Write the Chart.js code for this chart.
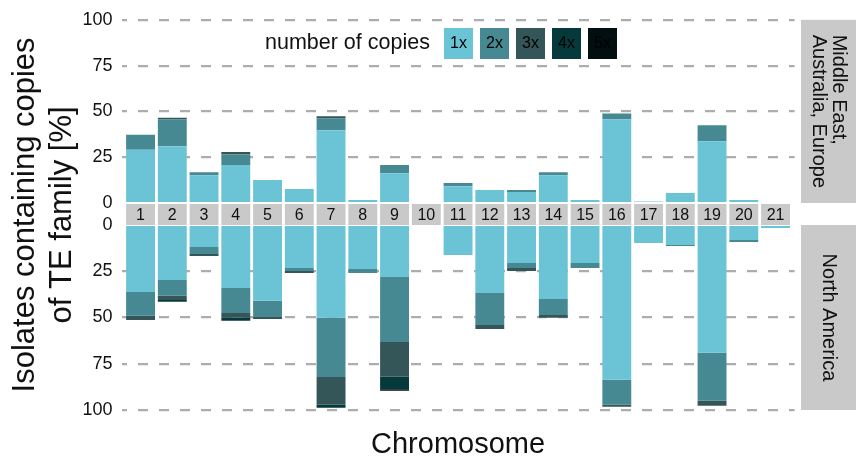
<!DOCTYPE html>
<html>
<head>
<meta charset="utf-8">
<script src="https://cdn.jsdelivr.net/npm/chart.js@4.4.0/dist/chart.umd.min.js"></script>
<style>
  html, body { margin: 0; padding: 0; background: #fff; }
  #wrap { position: relative; width: 856px; height: 463px; }
  #wrap canvas { position: absolute; left: 0; top: 0; }
</style>
</head>
<body>
<div id="wrap">
  <canvas id="topChart" width="856" height="463"></canvas>
  <canvas id="bottomChart" width="856" height="463"></canvas>
</div>
<script>
var chromosomes = [1, 2, 3, 4, 5, 6, 7, 8, 9, 10, 11, 12, 13, 14, 15, 16, 17, 18, 19, 20, 21];
var copyLabels = ['1x', '2x', '3x', '4x', '5x'];
var copyColors = ['#6bc3d6', '#468993', '#355659', '#06393c', '#020e10'];
var yTickValues = [0, 25, 50, 75, 100];
var topRegion = ['Middle East,', 'Australia, Europe'];
var bottomRegion = ['North America'];
var yTitle = ['Isolates containing copies', 'of TE family [%]'];
var xTitle = 'Chromosome';
var legendTitle = 'number of copies';

// Middle East, Australia, Europe
var top1x = [29.0, 31.0, 15.2, 20.7, 12.5, 7.6, 39.7, 1.6, 16.3, 0, 9.2, 7.1, 6.0, 15.2, 1.6, 45.7, 0.8, 5.4, 33.7, 1.6, 0];
var top2x = [8.2, 14.7, 1.6, 5.8, 0, 0, 6.5, 0, 4.4, 0, 1.7, 0, 1.1, 1.6, 0, 3.2, 0, 0, 8.7, 0, 0];
var top3x = [0, 0.9, 0, 1.4, 0, 0, 1.1, 0, 0, 0, 0, 0, 0, 0, 0, 0, 0, 0, 0, 0, 0];
var top4x = [0, 0, 0, 0, 0, 0, 0, 0, 0, 0, 0, 0, 0, 0, 0, 0, 0, 0, 0, 0, 0];
var top5x = [0, 0, 0, 0, 0, 0, 0, 0, 0, 0, 0, 0, 0, 0, 0, 0, 0, 0, 0, 0, 0];

// North America
var bottom1x = [36.2, 29.7, 11.9, 34.0, 41.0, 23.2, 50.2, 23.8, 28.1, 0, 16.2, 36.7, 20.5, 40.0, 20.5, 83.7, 9.7, 10.8, 69.1, 8.1, 1.6];
var bottom2x = [12.9, 8.6, 3.8, 13.5, 8.7, 1.6, 31.9, 2.1, 35.1, 0, 0, 17.3, 2.7, 8.6, 2.7, 13.5, 0, 0.5, 25.9, 1.1, 0];
var bottom3x = [2.2, 2.2, 1.0, 2.7, 1.1, 1.1, 15.1, 0, 18.8, 0, 0, 2.2, 1.6, 1.6, 0, 1.1, 0, 0, 2.7, 0, 0];
var bottom4x = [0, 1.0, 0, 1.6, 0, 0, 1.6, 0, 6.8, 0, 0, 0, 0, 0, 0, 0, 0, 0, 0, 0, 0];
var bottom5x = [0, 0, 0, 0, 0, 0, 0, 0, 0.8, 0, 0, 0, 0, 0, 0, 0, 0, 0, 0, 0, 0];

(function () {
  var FONT = '"Liberation Sans", Arial, Helvetica, sans-serif';
  var STRIP_GREY = '#c9c9c9';
  var topChart;

  function buildDatasets(series) {
    return series.map(function (values, i) {
      return {
        label: copyLabels[i],
        data: values,
        backgroundColor: copyColors[i],
        borderWidth: 0,
        barPercentage: 0.91,
        categoryPercentage: 1,
      };
    });
  }

  function buildOptions(reverse, padTop, padBottom) {
    return {
      responsive: false,
      animation: false,
      devicePixelRatio: 1,
      layout: { padding: { left: 0, right: 61.4, top: padTop, bottom: padBottom } },
      plugins: { legend: { display: false }, tooltip: { enabled: false } },
      scales: {
        x: {
          type: 'linear',
          min: 0.4,
          max: 21.6,
          offset: false,
          stacked: true,
          display: false,
          grid: { offset: false },
        },
        y: {
          min: 0,
          max: 100,
          reverse: reverse,
          stacked: true,
          afterFit: function (scale) { scale.width = 121.5; },
          afterBuildTicks: function (scale) {
            scale.ticks = yTickValues.map(function (v) { return { value: v }; });
          },
          ticks: { color: '#111', padding: 9, font: { family: FONT, size: 18 } },
          grid: {
            drawTicks: false,
            lineWidth: 2.2,
            color: function (ctx) {
              return ctx.tick && ctx.tick.value === 0 ? 'rgba(0,0,0,0)' : '#adadad';
            },
          },
          border: { display: false, dash: [10, 11], dashOffset: 5 },
        },
      },
    };
  }

  function drawRotated(ctx, text, x, y, angle) {
    ctx.save();
    ctx.translate(x, y);
    ctx.rotate(angle);
    ctx.fillText(text, 0, 0);
    ctx.restore();
  }

  var decorPlugin = {
    id: 'decor',
    afterDraw: function (chart) {
      var ctx = chart.ctx;
      var area = chart.chartArea;
      var topArea = topChart.chartArea;
      var meta = chart.getDatasetMeta(0);
      var stripTop = topChart.scales.y.getPixelForValue(0) + 1;
      var stripBottom = chart.scales.y.getPixelForValue(0);

      ctx.save();
      ctx.textAlign = 'center';
      ctx.textBaseline = 'middle';

      // chromosome strip between the panels
      ctx.font = '16px ' + FONT;
      chromosomes.forEach(function (c, i) {
        var bar = meta.data[i];
        ctx.fillStyle = STRIP_GREY;
        ctx.fillRect(bar.x - bar.width / 2, stripTop, bar.width, stripBottom - stripTop);
        ctx.fillStyle = '#111';
        ctx.fillText(String(c), bar.x, (stripTop + stripBottom) / 2 + 1);
      });

      // facet strips on the right
      var fx = 801, fw = 856 - 801;
      ctx.fillStyle = STRIP_GREY;
      ctx.fillRect(fx, topArea.top, fw, topArea.bottom - topArea.top);
      ctx.fillRect(fx, area.top, fw, area.bottom - area.top);
      ctx.fillStyle = '#111';
      ctx.font = '20px ' + FONT;
      var cx = fx + fw / 2;
      var topMid = (topArea.top + topArea.bottom) / 2;
      var longest = Math.max(ctx.measureText(topRegion[0]).width, ctx.measureText(topRegion[1]).width);
      ctx.textAlign = 'left';
      drawRotated(ctx, topRegion[0], cx + 10, topMid - longest / 2, Math.PI / 2);
      drawRotated(ctx, topRegion[1], cx - 10, topMid - longest / 2, Math.PI / 2);
      ctx.textAlign = 'center';
      drawRotated(ctx, bottomRegion[0], cx, (area.top + area.bottom) / 2, Math.PI / 2);

      // axis titles
      ctx.font = '31px ' + FONT;
      var yMid = (topArea.top + area.bottom) / 2;
      drawRotated(ctx, yTitle[0], 25, yMid, -Math.PI / 2);
      drawRotated(ctx, yTitle[1], 62, yMid, -Math.PI / 2);
      ctx.font = '29px ' + FONT;
      ctx.fillText(xTitle, (area.left + area.right) / 2, 445);

      // legend
      ctx.textAlign = 'left';
      ctx.font = '21.5px ' + FONT;
      ctx.fillText(legendTitle, 265, 43);
      ctx.textAlign = 'center';
      ctx.font = '16px ' + FONT;
      copyLabels.forEach(function (lab, i) {
        var kx = 444 + i * 36;
        ctx.fillStyle = copyColors[i];
        ctx.fillRect(kx, 28, 29, 31);
        ctx.fillStyle = '#000';
        ctx.fillText(lab, kx + 14.5, 44);
      });
      ctx.restore();
    },
  };

  topChart = new Chart(document.getElementById('topChart'), {
    type: 'bar',
    data: {
      labels: chromosomes,
      datasets: buildDatasets([top1x, top2x, top3x, top4x, top5x]),
    },
    options: buildOptions(false, 19, 463 - 203),
  });

  new Chart(document.getElementById('bottomChart'), {
    type: 'bar',
    data: {
      labels: chromosomes,
      datasets: buildDatasets([bottom1x, bottom2x, bottom3x, bottom4x, bottom5x]),
    },
    options: buildOptions(true, 225, 463 - 410),
    plugins: [decorPlugin],
  });
})();
</script>
</body>
</html>
